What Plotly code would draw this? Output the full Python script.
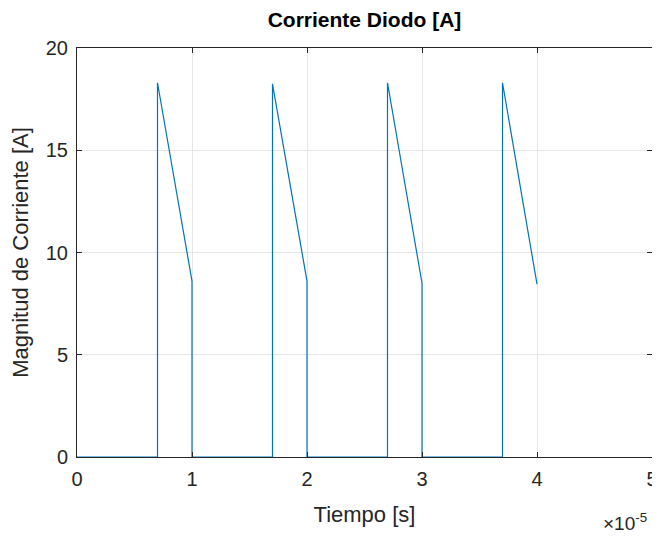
import plotly.graph_objects as go

# Diode current data (time in s, current in A)
t_on = [0.7e-5, 1.7e-5, 2.7e-5, 3.7e-5]
t_off = [1.0e-5, 2.0e-5, 3.0e-5, 4.0e-5]
i_peak = [18.3, 18.25, 18.3, 18.3]
i_end = [8.6, 8.6, 8.5, 8.45]

t = [0.0]
i = [0.0]
for k in range(len(t_on)):
    t += [t_on[k], t_on[k], t_off[k]]
    i += [0.0, i_peak[k], i_end[k]]
    if k < len(t_on) - 1:
        t += [t_off[k]]
        i += [0.0]

x_ticks = [0, 1e-5, 2e-5, 3e-5, 4e-5, 4.99999e-5]
x_tick_labels = ["0", "1", "2", "3", "4", "5"]
y_ticks = [0, 5, 10, 15, 20]

FONT = "Liberation Sans, Arial"
txt = "#262626"
fig = go.Figure()
fig.add_trace(go.Scatter(x=t, y=i, mode="lines",
                         line=dict(color="#0072BD", width=1.2),
                         showlegend=False, hoverinfo="skip"))

axis_common = dict(showline=True, mirror="ticks", linecolor=txt, linewidth=1,
                   showgrid=True, gridcolor="#e6e6e6", gridwidth=1,
                   ticks="inside", ticklen=5, tickcolor=txt, zeroline=False,
                   automargin=False,
                   tickfont=dict(family=FONT, size=20, color=txt))

# page body has an 8px margin, so the figure is 652x529 starting at (8, 8)
W, H = 652, 529
fig.update_layout(
    width=W, height=H,
    margin=dict(l=69, r=8, t=40, b=80),
    paper_bgcolor="white", plot_bgcolor="white",
    title=dict(text="<b>Corriente Diodo [A]</b>", x=(69 + 644) / 2 / W, xanchor="center",
               y=1 - 12 / H, yanchor="middle",
               font=dict(family=FONT, size=21, color="black")),
    xaxis=dict(range=[0, 5e-5], tickvals=x_ticks, ticktext=x_tick_labels,
               ticklabelstandoff=4,
               title=dict(text="Tiempo [s]", standoff=17,
                          font=dict(family=FONT, size=22, color=txt)),
               **axis_common),
    yaxis=dict(range=[0, 20], tickvals=y_ticks, ticklabelstandoff=4,
               title=dict(text="Magnitud de Corriente [A]", standoff=12,
                          font=dict(family=FONT, size=22, color=txt)),
               **axis_common),
    font=dict(family=FONT, color=txt),
)

fig.add_annotation(xref="paper", yref="paper", x=0.995, y=-65 / 409, xanchor="right", yanchor="middle",
                   text="×10<sup>-5</sup>", showarrow=False,
                   font=dict(family=FONT, size=19, color=txt))

fig.write_html("out.html")
